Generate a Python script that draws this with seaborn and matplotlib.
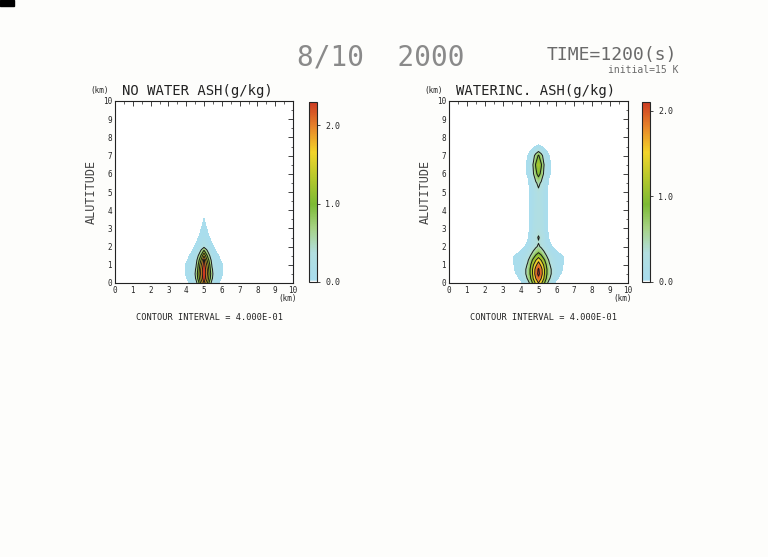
import numpy as np
import matplotlib
matplotlib.use("Agg")
import matplotlib.pyplot as plt
from matplotlib.colors import LinearSegmentedColormap
import seaborn as sns

# horizontal distance from the plume axis (km), same for both panels
dx = [0.0, 0.15, 0.3, 0.45, 0.6, 0.8, 1.0, 1.2, 1.4]
x_center = 5.0

# NO WATER ash (g/kg), half profile, one row per height
z_dry = [0.0, 0.25, 0.5, 0.75, 1.0, 1.25, 1.5, 1.75, 2.0, 2.5, 3.0, 3.5, 4.0]
ash_dry = [
    [2.00, 1.40, 0.70, 0.25, 0.08, 0.035, 0.00, 0.00, 0.00],
    [2.30, 1.70, 1.00, 0.45, 0.15, 0.07, 0.02, 0.00, 0.00],
    [2.35, 1.80, 1.10, 0.50, 0.20, 0.09, 0.04, 0.00, 0.00],
    [2.30, 1.80, 1.00, 0.45, 0.18, 0.10, 0.045, 0.00, 0.00],
    [2.20, 1.60, 0.90, 0.35, 0.15, 0.09, 0.04, 0.00, 0.00],
    [2.10, 1.30, 0.70, 0.25, 0.10, 0.06, 0.01, 0.00, 0.00],
    [1.60, 0.90, 0.45, 0.15, 0.07, 0.035, 0.00, 0.00, 0.00],
    [0.90, 0.50, 0.20, 0.08, 0.045, 0.00, 0.00, 0.00, 0.00],
    [0.30, 0.20, 0.10, 0.05, 0.02, 0.00, 0.00, 0.00, 0.00],
    [0.10, 0.06, 0.03, 0.00, 0.00, 0.00, 0.00, 0.00, 0.00],
    [0.06, 0.03, 0.00, 0.00, 0.00, 0.00, 0.00, 0.00, 0.00],
    [0.032, 0.00, 0.00, 0.00, 0.00, 0.00, 0.00, 0.00, 0.00],
    [0.00, 0.00, 0.00, 0.00, 0.00, 0.00, 0.00, 0.00, 0.00],
]

# WATER INC. ash (g/kg)
z_wet = [0.0, 0.25, 0.5, 0.75, 1.0, 1.25, 1.5, 1.75, 2.0, 2.25, 2.5, 2.75,
         3.0, 3.5, 4.0, 4.5, 5.0, 5.5, 6.0, 6.5, 7.0, 7.25, 7.5, 7.75]
ash_wet = [
    [1.60, 1.30, 0.90, 0.50, 0.25, 0.06, 0.00, 0.00, 0.00],
    [1.90, 1.60, 1.20, 0.75, 0.45, 0.18, 0.05, 0.00, 0.00],
    [2.10, 1.80, 1.30, 0.85, 0.52, 0.30, 0.10, 0.04, 0.00],
    [2.05, 1.75, 1.30, 0.85, 0.52, 0.30, 0.12, 0.07, 0.01],
    [1.80, 1.50, 1.15, 0.75, 0.45, 0.22, 0.12, 0.08, 0.02],
    [1.50, 1.20, 0.90, 0.60, 0.35, 0.18, 0.10, 0.07, 0.04],
    [1.00, 0.85, 0.60, 0.40, 0.25, 0.14, 0.08, 0.05, 0.025],
    [0.70, 0.55, 0.40, 0.25, 0.15, 0.07, 0.03, 0.00, 0.00],
    [0.45, 0.35, 0.25, 0.15, 0.06, 0.02, 0.00, 0.00, 0.00],
    [0.38, 0.30, 0.20, 0.10, 0.035, 0.00, 0.00, 0.00, 0.00],
    [0.43, 0.32, 0.20, 0.07, 0.02, 0.00, 0.00, 0.00, 0.00],
    [0.35, 0.28, 0.18, 0.055, 0.01, 0.00, 0.00, 0.00, 0.00],
    [0.30, 0.25, 0.16, 0.05, 0.00, 0.00, 0.00, 0.00, 0.00],
    [0.30, 0.24, 0.15, 0.045, 0.00, 0.00, 0.00, 0.00, 0.00],
    [0.30, 0.24, 0.15, 0.045, 0.00, 0.00, 0.00, 0.00, 0.00],
    [0.30, 0.23, 0.14, 0.04, 0.00, 0.00, 0.00, 0.00, 0.00],
    [0.32, 0.23, 0.13, 0.04, 0.00, 0.00, 0.00, 0.00, 0.00],
    [0.50, 0.35, 0.18, 0.06, 0.01, 0.00, 0.00, 0.00, 0.00],
    [0.95, 0.70, 0.35, 0.12, 0.04, 0.00, 0.00, 0.00, 0.00],
    [1.15, 0.85, 0.42, 0.15, 0.05, 0.00, 0.00, 0.00, 0.00],
    [0.85, 0.55, 0.25, 0.09, 0.03, 0.00, 0.00, 0.00, 0.00],
    [0.35, 0.20, 0.10, 0.03, 0.00, 0.00, 0.00, 0.00, 0.00],
    [0.05, 0.03, 0.00, 0.00, 0.00, 0.00, 0.00, 0.00, 0.00],
    [0.00, 0.00, 0.00, 0.00, 0.00, 0.00, 0.00, 0.00, 0.00],
]

vmax_dry = 2.3
vmax_wet = 2.1
contour_step = 0.4
titles = ["NO WATER ASH(g/kg)", "WATERINC. ASH(g/kg)"]

# colour scale of the plotter: white -> light blue -> green -> yellow -> red
cmap_pos = [0.0, 0.012, 0.16, 0.30, 0.43, 0.58, 0.72, 0.86, 1.0]
cmap_colors = ["#ffffff", "#a8ddee", "#b2dee0", "#a6d284", "#7cba34",
               "#b6c82c", "#f2d42a", "#e8862a", "#cc3a22"]

sns.set_style("white")
plt.rcParams["font.family"] = ["DejaVu Sans Mono", "DejaVu Sans"]

cmap = LinearSegmentedColormap.from_list("ash", list(zip(cmap_pos, cmap_colors)))

fig = plt.figure(figsize=(7.68, 5.57), dpi=100)
fig.patch.set_facecolor("#fdfdfb")

W, H = 768, 557


def box(x0, y0, x1, y1):
    # pixel box (top-left origin) -> figure fraction
    return [x0 / W, 1 - y1 / H, (x1 - x0) / W, (y1 - y0) / H]


def mirror(rows):
    arr = np.array(rows)
    return np.hstack([arr[:, :0:-1], arr])


xs = np.concatenate([x_center - np.array(dx)[:0:-1], x_center + np.array(dx)])

panels = [
    (z_dry, ash_dry, vmax_dry, box(115, 101, 293, 283), box(309, 102, 317, 282)),
    (z_wet, ash_wet, vmax_wet, box(449, 101, 628, 283), box(642, 102, 650, 282)),
]

for i, (zz, vals, vmax, ax_box, cb_box) in enumerate(panels):
    ax = fig.add_axes(ax_box)
    ax.set_facecolor("white")
    field = mirror(vals)
    X, Z = np.meshgrid(xs, zz)
    norm = plt.Normalize(0, vmax)
    fill_levels = np.linspace(0.03, vmax, 70)
    ax.contourf(X, Z, field, levels=fill_levels, cmap=cmap, norm=norm,
                extend="max")
    line_levels = np.arange(contour_step, vmax, contour_step)
    ax.contour(X, Z, field, levels=line_levels, colors="#1a1a1a",
               linewidths=0.7)

    ax.set_xlim(0, 10)
    ax.set_ylim(0, 10)
    ax.set_xticks(range(11))
    ax.set_yticks(range(11))
    ax.set_xticks(np.arange(0.5, 10, 1.0), minor=True)
    ax.set_yticks(np.arange(0.5, 10, 1.0), minor=True)
    ax.tick_params(which="both", direction="in", top=True, right=True,
                   labelsize=5.5, pad=2, color="#222222")
    ax.tick_params(which="major", length=3.5, width=0.6)
    ax.tick_params(which="minor", length=1.8, width=0.5)
    for s in ax.spines.values():
        s.set_linewidth(0.8)
        s.set_color("#222222")

    ax.set_ylabel("ALUTITUDE", fontsize=8.5, color="#444444", labelpad=4)
    ax.text(-0.14, 1.055, "(km)", transform=ax.transAxes, fontsize=5.5,
            ha="left", va="center", color="#222222")
    ax.text(0.04, 1.055, titles[i], transform=ax.transAxes, fontsize=10,
            ha="left", va="center", color="#222222")
    ax.text(1.02, -0.085, "(km)", transform=ax.transAxes, fontsize=5.5,
            ha="right", va="center", color="#222222")
    ax.text(0.53, -0.19, "CONTOUR INTERVAL = 4.000E-01",
            transform=ax.transAxes, fontsize=6.2, ha="center", va="center",
            color="#222222")

    cax = fig.add_axes(cb_box)
    sm = plt.cm.ScalarMappable(norm=norm, cmap=cmap)
    cb = fig.colorbar(sm, cax=cax)
    cb.set_ticks([0.0, 1.0, 2.0])
    cb.set_ticklabels(["0.0", "1.0", "2.0"])
    cb.ax.set_yticks(np.arange(0.2, vmax, 0.2), minor=True)
    cb.ax.tick_params(which="major", direction="inout", length=4, width=0.6,
                      labelsize=6, pad=4)
    cb.ax.tick_params(which="minor", direction="in", length=2, width=0.5)
    cb.outline.set_linewidth(0.8)

fig.text(381 / W, 1 - 58 / H, "8/10  2000", fontsize=20, color="#8a8a8a",
         ha="center", va="center")
fig.text(612 / W, 1 - 55 / H, "TIME=1200(s)", fontsize=13, color="#6a6a6a",
         ha="center", va="center")
fig.text(643 / W, 1 - 70 / H, "initial=15 K", fontsize=7, color="#6a6a6a",
         ha="center", va="center")

# dark scanner edge in the upper left corner
fig.patches.append(plt.Rectangle((0, 1 - 6 / H), 14 / W, 6 / H,
                                 transform=fig.transFigure, color="black"))

fig.savefig("out.png", dpi=100)
